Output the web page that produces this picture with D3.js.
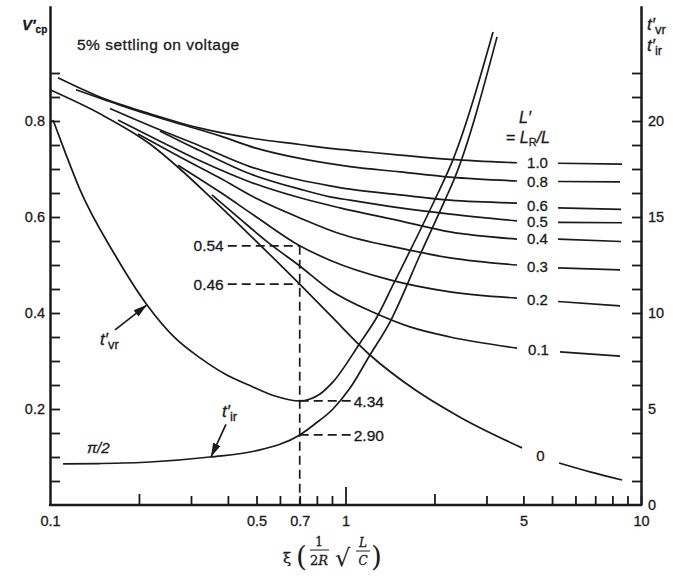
<!DOCTYPE html>
<html lang="en">
<head>
<meta charset="UTF-8">
<script src="https://cdn.jsdelivr.net/npm/d3@7"></script>
<style>
  body { margin: 0; background: #fff; }
  text { font-family: "Liberation Sans", Arial, sans-serif; fill: #1a1a1a; stroke: #1a1a1a; stroke-width: 0.3px; }
</style>
</head>
<body>
<div id="container"></div>
<script>
const width = 673;
const height = 576;

// ticks
const xTicks = [0.1, 0.2, 0.3, 0.4, 0.5, 0.6, 0.7, 0.8, 0.9, 1, 2, 3, 4, 5, 6, 7, 8, 9, 10];
// the plate prints its "5" on the 4 tick, kept as printed
const xTickLabels = [[0.1, "0.1"], [0.5, "0.5"], [0.7, "0.7"], [1, "1"], [4, "5"], [10, "10"]];
const leftTicks = [0.05, 0.1, 0.15, 0.2, 0.25, 0.3, 0.35, 0.4, 0.45, 0.5, 0.55, 0.6, 0.65, 0.7, 0.75, 0.8, 0.85, 0.9];
const leftTickLabels = [0.2, 0.4, 0.6, 0.8];
const rightTicks = [0, 1.25, 2.5, 3.75, 5, 6.25, 7.5, 8.75, 10, 11.25, 12.5, 13.75, 15, 16.25, 17.5, 18.75, 20, 21.25, 22.5];
const rightTickLabels = [0, 5, 10, 15, 20];

// V'cp curves, [xi, V'cp]; the tail is the piece right of the label
const lp10 = [[0.1064, 0.890], [0.1476, 0.850], [0.218, 0.815], [0.322, 0.785], [0.494, 0.763], [0.701, 0.751], [0.886, 0.743], [1.036, 0.739], [1.529, 0.729], [2.258, 0.720], [3.805, 0.713]];
const lp10Tail = [[5.24, 0.712], [8.63, 0.710]];
const lp08 = [[0.1225, 0.865], [0.1725, 0.833], [0.2547, 0.800], [0.376, 0.769], [0.494, 0.744], [0.701, 0.722], [1.036, 0.705], [1.529, 0.694], [2.258, 0.683], [3.805, 0.675]];
const lp08Tail = [[5.24, 0.674], [8.49, 0.673]];
const lp06 = [[0.1596, 0.826], [0.218, 0.790], [0.322, 0.748], [0.475, 0.705], [0.701, 0.677], [0.886, 0.665], [1.036, 0.658], [1.529, 0.646], [2.258, 0.635], [3.805, 0.629]];
const lp06Tail = [[5.24, 0.619], [8.56, 0.616]];
const lp05 = [[0.2357, 0.779], [0.322, 0.738], [0.475, 0.690], [0.701, 0.658], [0.886, 0.642], [1.036, 0.635], [1.529, 0.619], [2.258, 0.606], [3.805, 0.592]];
const lp05Tail = [[5.24, 0.589], [8.63, 0.588]];
const lp04 = [[0.170, 0.802], [0.2357, 0.758], [0.322, 0.717], [0.475, 0.673], [0.701, 0.640], [0.958, 0.619], [1.529, 0.592], [2.258, 0.569], [3.805, 0.554]];
const lp04Tail = [[5.24, 0.554], [8.56, 0.549]];
const lp03 = [[0.1985, 0.773], [0.2754, 0.725], [0.376, 0.681], [0.494, 0.640], [0.701, 0.598], [0.958, 0.565], [1.529, 0.535], [2.258, 0.515], [3.805, 0.500]];
const lp03Tail = [[5.24, 0.494], [8.49, 0.490]];
const lp02 = [[0.271, 0.708], [0.376, 0.652], [0.494, 0.602], [0.7, 0.54], [0.886, 0.510], [1.414, 0.469], [2.258, 0.444], [3.805, 0.431]];
const lp02Tail = [[5.24, 0.424], [8.49, 0.415]];
const lp01 = [[0.3534, 0.646], [0.4395, 0.596], [0.555, 0.544], [0.7, 0.498], [0.886, 0.448], [1.258, 0.400], [1.653, 0.371], [2.258, 0.350], [3.805, 0.327]];
const lp01Tail = [[5.32, 0.319], [8.49, 0.310]];
const lp00 = [[0.1, 0.865], [0.1476, 0.815], [0.218, 0.752], [0.2754, 0.700], [0.348, 0.642], [0.494, 0.552], [0.7, 0.46], [0.886, 0.396], [1.21, 0.3125], [1.719, 0.240], [2.441, 0.183], [3.956, 0.119]];
const lp00Tail = [[5.28, 0.0875], [6.72, 0.069], [8.63, 0.052]];

const curveNames = ["1.0", "0.8", "0.6", "0.5", "0.4", "0.3", "0.2", "0.1", "0"];
const curveHeads = [lp10, lp08, lp06, lp05, lp04, lp03, lp02, lp01, lp00];
const curveTails = [lp10Tail, lp08Tail, lp06Tail, lp05Tail, lp04Tail, lp03Tail, lp02Tail, lp01Tail, lp00Tail];

// rise times on the right axis, [xi, t']
const tvr = [[0.1024, 20.05], [0.1124, 18.39], [0.1264, 16.41], [0.166, 13.02], [0.213, 10.42], [0.265, 8.70], [0.322, 7.66], [0.391, 6.82], [0.486, 6.15], [0.577, 5.68], [0.7, 5.42], [0.759, 5.52], [0.82, 5.78], [0.907, 6.41], [1.12, 8.44], [1.278, 9.79], [1.448, 11.46], [1.615, 12.92], [2.056, 16.25], [2.293, 17.86], [3.157, 24.64]];
const tir = [[0.1107, 2.14], [0.1476, 2.16], [0.218, 2.24], [0.348, 2.5], [0.494, 2.81], [0.7, 3.65], [0.788, 4.22], [0.907, 5.0], [1.036, 6.09], [1.21, 7.81], [1.414, 9.53], [1.787, 13.02], [2.172, 15.89], [2.348, 17.08], [3.257, 24.38]];

// worked example at xi = 0.7
const exampleXi = 0.7;
const vcpMarks = [0.54, 0.46];
const tMarkLabels = ["4.34", "2.90"];

const ink = "#1a1a1a";

const x = d3.scaleLog().domain([0.1, 10]).range([50, 641]);
const yL = d3.scaleLinear().domain([0, 1.04]).range([505, 5.8]);
const yR = d3.scaleLinear().domain([0, 26]).range([505, 5.8]);

const svg = d3.create("svg")
    .attr("width", width)
    .attr("height", height)
    .style("background", "#fff");

const near = (a, b) => Math.abs(a - b) < 1e-6;

// left axis
const gL = svg.append("g")
    .attr("transform", "translate(50,0)")
    .call(d3.axisLeft(yL)
        .tickValues(leftTicks)
        .tickSizeInner(-10)
        .tickSizeOuter(0)
        .tickPadding(5)
        .tickFormat(d => leftTickLabels.some(v => near(v, d)) ? d.toFixed(1) : ""));

// right axis
const gR = svg.append("g")
    .attr("transform", "translate(641,0)")
    .call(d3.axisRight(yR)
        .tickValues(rightTicks)
        .tickSizeInner(-9)
        .tickSizeOuter(0)
        .tickPadding(7)
        .tickFormat(d => rightTickLabels.includes(d) ? String(d) : ""));
gR.selectAll(".tick").filter(d => d === 0).select("line").remove();

// bottom axis, ticks pointing up
const gB = svg.append("g")
    .attr("transform", "translate(0,505)")
    .call(d3.axisBottom(x)
        .tickValues(xTicks)
        .tickSizeInner(-9)
        .tickSizeOuter(0)
        .tickPadding(11)
        .tickFormat(d => {
            const hit = xTickLabels.find(t => near(t[0], d));
            return hit ? hit[1] : "";
        }));
gB.selectAll(".tick line")
    .attr("y2", d => d === 1 ? -18 : (d === 0.2 || d === 2) ? -11 : d === 0.1 ? 0 : -9);

[gL, gR, gB].forEach(g => {
    g.select(".domain").attr("stroke", ink).attr("stroke-width", 2.5);
    g.selectAll(".tick line").attr("stroke", ink).attr("stroke-width", 1.8);
    g.selectAll(".tick text")
        .attr("fill", ink)
        .style("font-family", "'Liberation Sans', Arial, sans-serif")
        .style("font-size", "14.5px");
});
gB.select(".domain").attr("d", `M${x(0.1) - 1},0H${x(10) + 1}`);

// curves
const lineL = d3.line()
    .x(d => x(d[0]))
    .y(d => yL(d[1]))
    .curve(d3.curveMonotoneX);
const lineR = d3.line()
    .x(d => x(d[0]))
    .y(d => yR(d[1]))
    .curve(d3.curveMonotoneX);

const curves = svg.append("g")
    .attr("fill", "none")
    .attr("stroke", ink)
    .attr("stroke-width", 1.7);

curveHeads.forEach((pts, i) => {
    curves.append("path").attr("d", lineL(pts));
    curves.append("path").attr("d", lineL(curveTails[i]));
    const a = pts[pts.length - 1];
    const b = curveTails[i][0];
    svg.append("text")
        .attr("x", (x(a[0]) + x(b[0])) / 2)
        .attr("y", (yL(a[1]) + yL(b[1])) / 2)
        .attr("dy", "0.36em")
        .attr("text-anchor", "middle")
        .style("font-size", "15px")
        .text(curveNames[i]);
});

curves.append("path").attr("d", lineR(tvr));
curves.append("path").attr("d", lineR(tir));

// dashed construction lines
const dash = svg.append("g")
    .attr("stroke", ink)
    .attr("stroke-width", 1.7)
    .attr("stroke-dasharray", "9,5");
const x7 = x(exampleXi);
dash.append("line")
    .attr("x1", x7).attr("x2", x7)
    .attr("y1", yL(vcpMarks[0])).attr("y2", yL(0));
vcpMarks.forEach(v => {
    dash.append("line")
        .attr("x1", x7 - 72).attr("x2", x7)
        .attr("y1", yL(v)).attr("y2", yL(v));
    svg.append("text")
        .attr("x", x7 - 76)
        .attr("y", yL(v))
        .attr("dy", "0.36em")
        .attr("text-anchor", "end")
        .style("font-size", "15.5px")
        .text(v.toFixed(2));
});
[tvr, tir].forEach((c, i) => {
    const p = c.find(d => near(d[0], exampleXi));
    dash.append("line")
        .attr("x1", x7).attr("x2", x7 + 52)
        .attr("y1", yR(p[1])).attr("y2", yR(p[1]));
    svg.append("text")
        .attr("x", x7 + 54)
        .attr("y", yR(p[1]))
        .attr("dy", "0.36em")
        .style("font-size", "15.5px")
        .text(tMarkLabels[i]);
});

// arrows pointing at the two rise-time curves
svg.append("defs").append("marker")
    .attr("id", "head")
    .attr("viewBox", "0 -5 14 10")
    .attr("refX", 14)
    .attr("markerWidth", 14)
    .attr("markerHeight", 10)
    .attr("markerUnits", "userSpaceOnUse")
    .attr("orient", "auto")
    .append("path")
    .attr("d", "M0,-4L14,0L0,4Z")
    .attr("fill", ink);

const arrows = [
    { from: [0.166, 0.365], to: [0.213, 0.417] },
    { from: [0.394, 0.168], to: [0.3505, 0.100] }
];
arrows.forEach(a => {
    svg.append("line")
        .attr("x1", x(a.from[0])).attr("y1", yL(a.from[1]))
        .attr("x2", x(a.to[0])).attr("y2", yL(a.to[1]))
        .attr("stroke", ink)
        .attr("stroke-width", 1.7)
        .attr("marker-end", "url(#head)");
});

function tLabel(px, py, sub, size) {
    const t = svg.append("text").attr("x", px).attr("y", py).style("font-size", size + "px");
    t.append("tspan").style("font-style", "italic").text("t\u2032");
    t.append("tspan").attr("dy", 4).style("font-size", (size - 4) + "px").text(sub);
}
tLabel(x(0.1476), yL(0.333), "vr", 17);
tLabel(x(0.382), yL(0.183), "ir", 17);

svg.append("text")
    .attr("x", x(0.1334))
    .attr("y", yL(0.1) - 4)
    .style("font-size", "15px")
    .style("font-style", "italic")
    .text("\u03c0/2");

// titles
const vt = svg.append("text").attr("x", 22).attr("y", 30)
    .style("font-size", "15px").style("font-weight", "bold");
vt.append("tspan").style("font-style", "italic").text("V\u2032");
vt.append("tspan").attr("dy", 3).style("font-size", "10px").text("cp");

svg.append("text")
    .attr("x", 77).attr("y", 50)
    .style("font-size", "15.5px")
    .style("letter-spacing", "0.5px")
    .text("5% settling on voltage");

tLabel(647, 30, "vr", 17);
tLabel(647, 51, "ir", 17);

const lt1 = svg.append("text").attr("x", 519).attr("y", 123).style("font-size", "16px");
lt1.append("tspan").style("font-style", "italic").text("L\u2032");
const lt2 = svg.append("text").attr("x", 506).attr("y", 143).style("font-size", "16px");
lt2.append("tspan").text("= ");
lt2.append("tspan").style("font-style", "italic").text("L");
lt2.append("tspan").attr("dy", 3).style("font-size", "11px").text("R");
lt2.append("tspan").attr("dy", -3).style("font-style", "italic").text("/L");

// x axis title: xi (1/2R sqrt(L/C))
const serif = "'DejaVu Serif', 'Liberation Serif', serif";
const xt = svg.append("g");
xt.append("text").attr("x", 283).attr("y", 563).style("font-family", serif).style("font-size", "15px").text("\u03be");
xt.append("text").attr("x", 296).attr("y", 566).style("font-family", serif).style("font-size", "28px")
    .style("stroke-width", "0").text("(");
xt.append("text").attr("x", 319).attr("y", 546).attr("text-anchor", "middle")
    .style("font-family", serif).style("font-size", "12px").text("1");
xt.append("line").attr("x1", 310).attr("x2", 329).attr("y1", 550).attr("y2", 550)
    .attr("stroke", ink).attr("stroke-width", 1);
xt.append("text").attr("x", 319).attr("y", 565).attr("text-anchor", "middle")
    .style("font-family", serif).style("font-size", "13px").text("2")
    .append("tspan").style("font-style", "italic").text("R");
xt.append("text").attr("x", 335).attr("y", 566)
    .style("font-family", serif).style("font-size", "24px").style("stroke-width", "0").text("\u221a");
xt.append("text").attr("x", 363).attr("y", 547).attr("text-anchor", "middle")
    .style("font-family", serif).style("font-size", "12px").style("font-style", "italic").text("L");
xt.append("line").attr("x1", 356).attr("x2", 370).attr("y1", 551).attr("y2", 551)
    .attr("stroke", ink).attr("stroke-width", 1);
xt.append("text").attr("x", 363).attr("y", 565).attr("text-anchor", "middle")
    .style("font-family", serif).style("font-size", "12px").style("font-style", "italic").text("C");
xt.append("text").attr("x", 371).attr("y", 566).style("font-family", serif).style("font-size", "28px")
    .style("stroke-width", "0").text(")");

document.getElementById("container").appendChild(svg.node());
</script>
</body>
</html>
